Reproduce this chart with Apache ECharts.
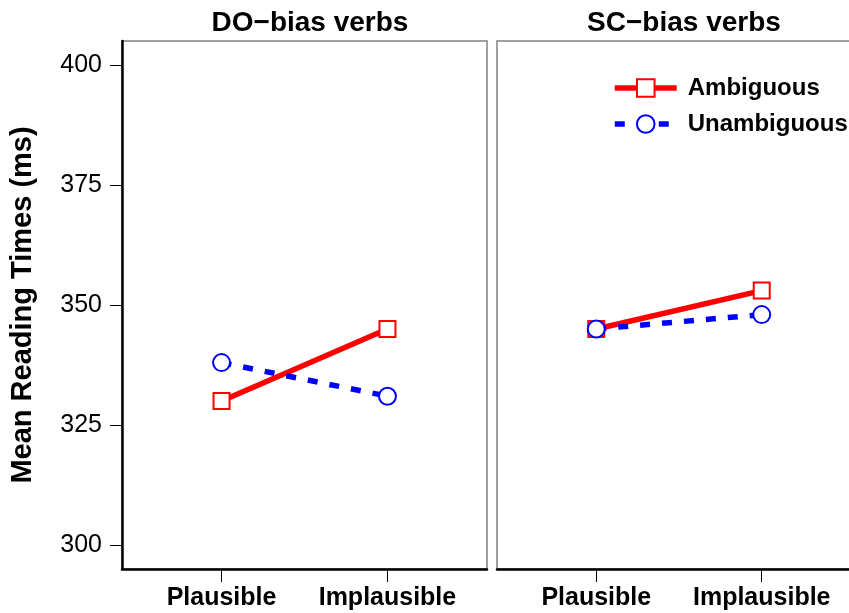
<!DOCTYPE html>
<html>
<head>
<meta charset="utf-8">
<script src="https://cdn.jsdelivr.net/npm/echarts@6/dist/echarts.min.js"></script>
<style>
  html, body { margin: 0; padding: 0; background: #fff; overflow: hidden; }
  /* the right panel runs past the window edge, so the canvas is a bit wider */
  #chart { width: 870px; height: 613px; }
</style>
</head>
<body>
<div id="chart"></div>
<script>
// Plausibility conditions on the x axis (positions 1 and 2)
const conditions = ['Plausible', 'Implausible'];
const panelTitles = ['DO\u2212bias verbs', 'SC\u2212bias verbs'];
const yTicks = [300, 325, 350, 375, 400];

// Mean reading times (ms), one array per panel and ambiguity condition
const doAmbiguous = [330, 345];
const doUnambiguous = [338, 331];
const scAmbiguous = [345, 353];
const scUnambiguous = [345, 348];

const FONT = '"Liberation Sans", Arial, Helvetica, sans-serif';
const RED = '#ff0000';
const BLUE = '#0000ff';

const toPoints = vals => vals.map((v, i) => [i + 1, v]);

const chart = echarts.init(document.getElementById('chart'), null, { renderer: 'canvas' });

const grids = [
  { left: 122, top: 41, width: 365, height: 528 },
  { left: 497, top: 41, width: 364, height: 528 }
].map(g => Object.assign(g, { show: true, borderColor: '#808080', borderWidth: 1.5, containLabel: false }));

const xAxes = [0, 1].map(i => ({
  type: 'value', gridIndex: i, min: 0.4, max: 2.6,
  axisLine: { show: true, onZero: false, lineStyle: { color: '#000', width: 2.5 } },
  axisTick: { show: true, customValues: [1, 2], length: 13, lineStyle: { color: '#000', width: 1 } },
  axisLabel: {
    customValues: [1, 2], margin: 17,
    formatter: v => conditions[Math.round(v) - 1] || '',
    color: '#000', fontFamily: FONT, fontWeight: 'bold', fontSize: 25
  },
  splitLine: { show: false }
}));

const yAxes = [0, 1].map(i => ({
  type: 'value', gridIndex: i, min: 295, max: 405,
  show: i === 0,
  name: i === 0 ? 'Mean Reading Times (ms)' : '',
  nameLocation: 'middle', nameGap: 85, nameRotate: 90,
  nameTextStyle: { color: '#000', fontFamily: FONT, fontWeight: 'bold', fontSize: 29 },
  axisLine: { show: true, onZero: false, lineStyle: { color: '#000', width: 2.5 } },
  axisTick: { show: true, customValues: yTicks, length: 12, lineStyle: { color: '#000', width: 1 } },
  axisLabel: {
    customValues: yTicks, margin: 20,
    color: '#000', fontFamily: FONT, fontSize: 25
  },
  splitLine: { show: false }
}));

function ambSeries(idx, vals) {
  return {
    name: 'Ambiguous', type: 'line', xAxisIndex: idx, yAxisIndex: idx,
    data: toPoints(vals),
    symbol: 'rect', symbolSize: 16,
    lineStyle: { color: RED, width: 5.5, type: 'solid' },
    itemStyle: { color: '#fff', borderColor: RED, borderWidth: 2 },
    z: 2
  };
}
function unambSeries(idx, vals) {
  return {
    name: 'Unambiguous', type: 'line', xAxisIndex: idx, yAxisIndex: idx,
    data: toPoints(vals),
    symbol: 'circle', symbolSize: 17,
    lineStyle: { color: BLUE, width: 5.5, type: [10, 12] },
    itemStyle: { color: '#fff', borderColor: BLUE, borderWidth: 2 },
    z: 3
  };
}

chart.setOption({
  animation: false,
  backgroundColor: '#fff',
  title: panelTitles.map((t, i) => ({
    text: t,
    left: i === 0 ? 305 : 679, top: 4, textAlign: 'center',
    textStyle: { color: '#000', fontFamily: FONT, fontWeight: 'bold', fontSize: 28 }
  })),
  grid: grids,
  xAxis: xAxes,
  yAxis: yAxes,
  legend: {
    orient: 'vertical', left: 612, top: 76, padding: 0,
    itemWidth: 62, itemHeight: 22, itemGap: 12,
    textStyle: { color: '#000', fontFamily: FONT, fontWeight: 'bold', fontSize: 24, padding: [0, 0, 0, 6] },
    data: [
      { name: 'Ambiguous', lineStyle: { color: RED, width: 5.5, type: 'solid' }, itemStyle: { color: '#fff', borderColor: RED, borderWidth: 2 } },
      { name: 'Unambiguous', lineStyle: { color: BLUE, width: 5.5, type: [10, 12] }, itemStyle: { color: '#fff', borderColor: BLUE, borderWidth: 2 } }
    ]
  },
  series: [
    ambSeries(0, doAmbiguous),
    unambSeries(0, doUnambiguous),
    ambSeries(1, scAmbiguous),
    unambSeries(1, scUnambiguous)
  ]
});
</script>
</body>
</html>
